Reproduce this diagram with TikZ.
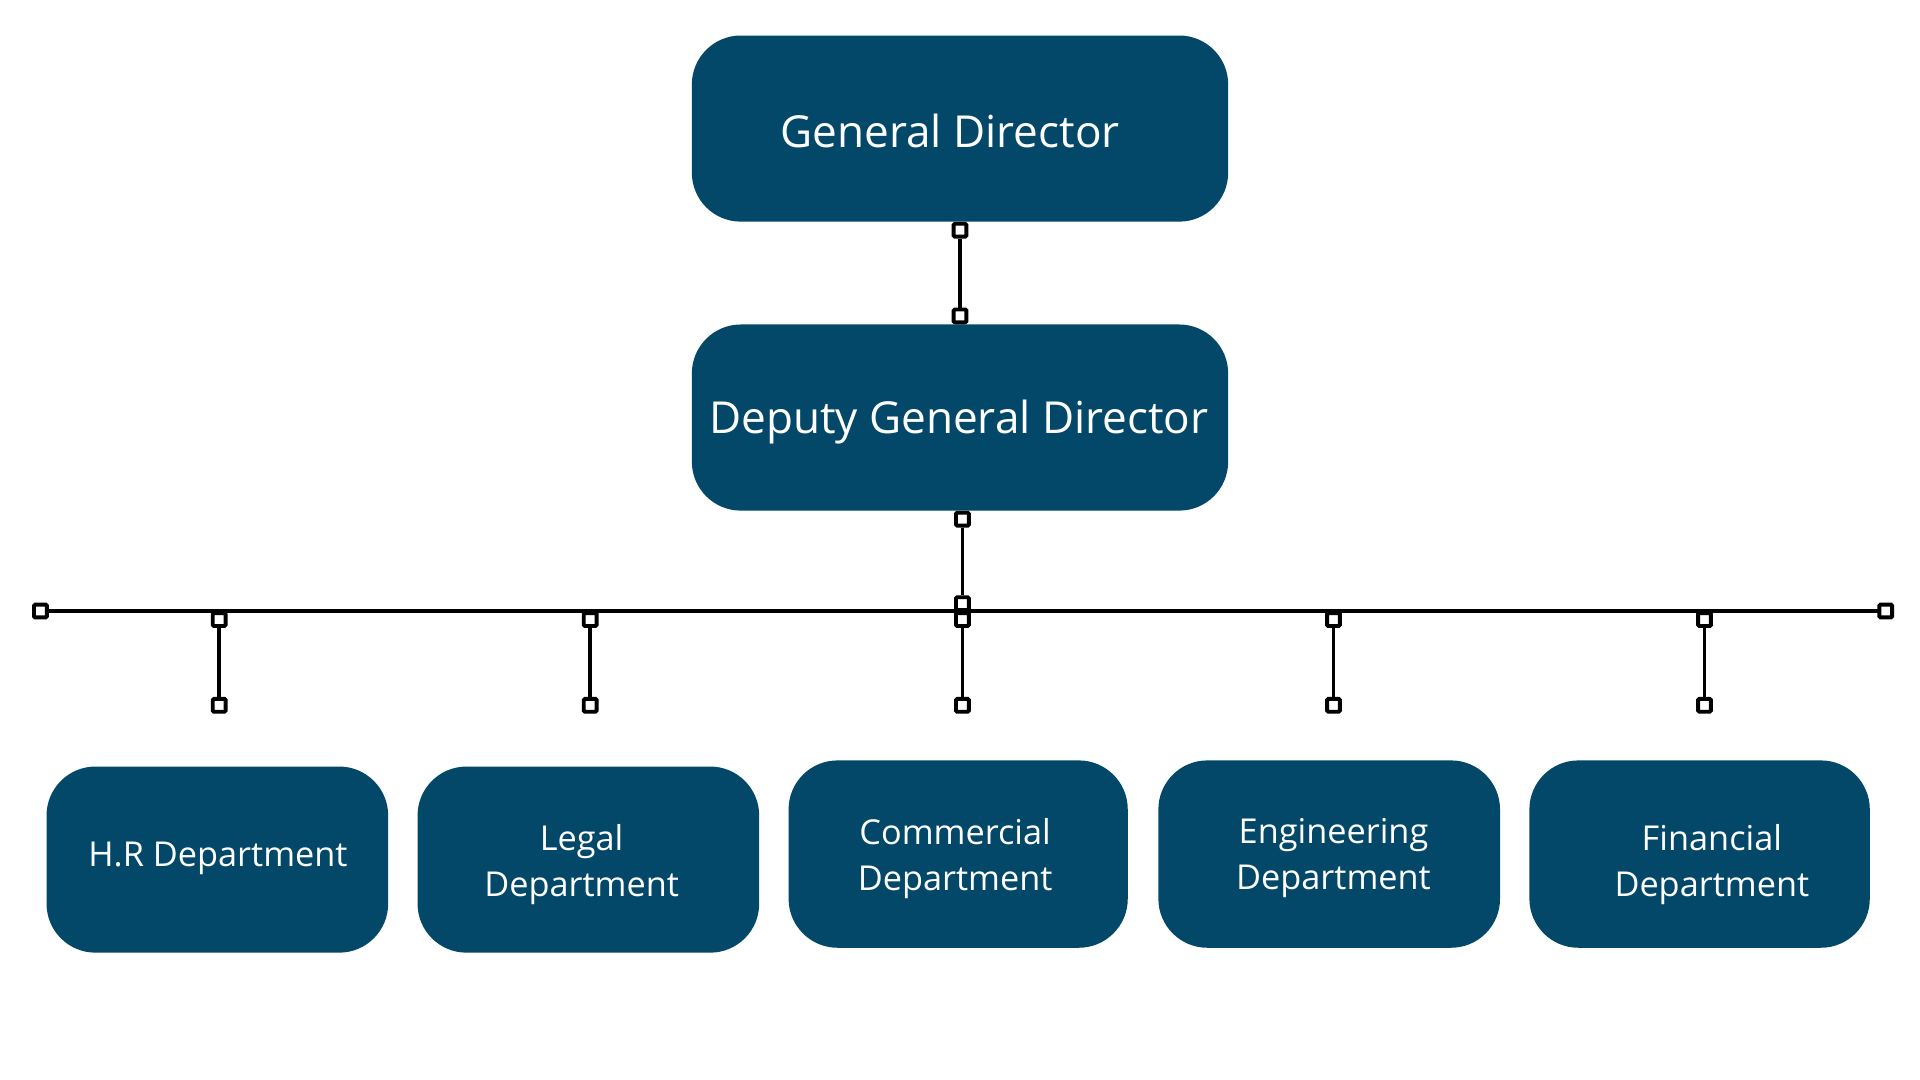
\documentclass[tikz,border=0pt]{standalone}
\usepackage{fontspec}
\setmainfont{Open Sans}
\definecolor{boxblue}{RGB}{3,72,104}
\begin{document}
\begin{tikzpicture}[x=1pt,y=-1pt,
  box/.style={fill=boxblue, draw=none, rounded corners=40pt, inner sep=0pt},
  bigtext/.style={text=white, font=\fontsize{36}{42}\selectfont, inner sep=0pt},
  deptext/.style={text=white, font=\fontsize{28}{37.5}\selectfont, align=center, inner sep=0pt},
  sq/.style={draw=black, fill=white, line width=3.2pt, minimum size=10.5pt, inner sep=0pt, rectangle, rounded corners=1pt},
  conn/.style={draw=black, line width=3pt}]
\fill[white] (0,0) rectangle (1568,882);
% boxes
\node[box, minimum width=438, minimum height=152] (gd) at (784,105) {};
\node[box, minimum width=438, minimum height=152] (dgd) at (784,341) {};
\node[box, minimum width=279, minimum height=152] (hr) at (177.5,702) {};
\node[box, minimum width=279, minimum height=152] (legal) at (480.5,702) {};
\node[box, minimum width=277, minimum height=153] (comm) at (782.5,697.5) {};
\node[box, minimum width=279, minimum height=153] (eng) at (1085.5,697.5) {};
\node[box, minimum width=278, minimum height=153] (fin) at (1388,697.5) {};
% texts
\node[bigtext] (gdt) at (776,107) {General Director};
\node[bigtext] (dgdt) at (783,345) {Deputy General Director};
\node[deptext] (hrt) at (178,701) {H.R Department};
\node[deptext] (legalt) at (475,706) {Legal\\Department};
\node[deptext] (commt) at (780,701) {Commercial\\Department};
\node[deptext] (engt) at (1089,701) {Engineering\\Department};
\node[deptext] (fint) at (1398,706) {Financial\\Department};
% connectors
\draw[conn] (33,499) coordinate (hl) -- (1540,499) coordinate (hr2);
\node[sq] (hle) at (hl) {};
\node[sq] (hre) at (hr2) {};
\node[sq] (s1) at (784,188) {};
\node[sq] (s2) at (784,258) {};
\draw[conn] (s1) -- (s2);
\node[sq] (s3) at (786,424) {};
\node[sq] (s4) at (786,493) {};
\draw[conn] (s3) -- (s4);
\foreach \x/\n in {179/a,482/b,786/c,1089/d,1392/e}{
  \node[sq] (t\n) at (\x,506) {};
  \node[sq] (b\n) at (\x,576) {};
  \draw[conn] (t\n) -- (b\n);
}
\end{tikzpicture}
\end{document}
